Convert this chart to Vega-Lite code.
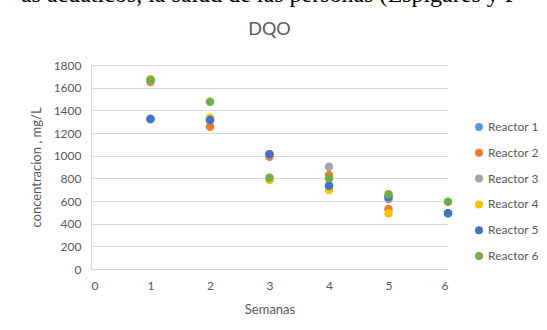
{
  "$schema": "https://vega.github.io/schema/vega-lite/v6.json",
  "autosize": {"type": "none"},
  "width": 357,
  "height": 204,
  "padding": {"left": 91, "top": 65, "right": 99, "bottom": 61},
  "background": "white",
  "title": {
    "text": "as acuáticos, la salud de las personas (Espigares y F",
    "subtitle": "DQO",
    "anchor": "middle",
    "font": "Liberation Serif",
    "fontSize": 24,
    "fontWeight": "normal",
    "color": "#000000",
    "subtitleFont": "Lato",
    "subtitleFontSize": 18,
    "subtitleColor": "#595959",
    "subtitlePadding": 14,
    "offset": 20
  },
  "data": {
    "values": [
      {"week": 1, "value": 1324, "reactor": "Reactor 1"},
      {"week": 2, "value": 1315, "reactor": "Reactor 1"},
      {"week": 3, "value": 1012, "reactor": "Reactor 1"},
      {"week": 4, "value": 735, "reactor": "Reactor 1"},
      {"week": 5, "value": 635, "reactor": "Reactor 1"},
      {"week": 6, "value": 491, "reactor": "Reactor 1"},
      {"week": 1, "value": 1650, "reactor": "Reactor 2"},
      {"week": 2, "value": 1256, "reactor": "Reactor 2"},
      {"week": 3, "value": 991, "reactor": "Reactor 2"},
      {"week": 4, "value": 829, "reactor": "Reactor 2"},
      {"week": 5, "value": 529, "reactor": "Reactor 2"},
      {"week": 1, "value": 1665, "reactor": "Reactor 3"},
      {"week": 2, "value": 1318, "reactor": "Reactor 3"},
      {"week": 3, "value": 1005, "reactor": "Reactor 3"},
      {"week": 4, "value": 903, "reactor": "Reactor 3"},
      {"week": 5, "value": 615, "reactor": "Reactor 3"},
      {"week": 1, "value": 1675, "reactor": "Reactor 4"},
      {"week": 2, "value": 1335, "reactor": "Reactor 4"},
      {"week": 3, "value": 785, "reactor": "Reactor 4"},
      {"week": 4, "value": 697, "reactor": "Reactor 4"},
      {"week": 5, "value": 491, "reactor": "Reactor 4"},
      {"week": 1, "value": 1324, "reactor": "Reactor 5"},
      {"week": 2, "value": 1315, "reactor": "Reactor 5"},
      {"week": 3, "value": 1012, "reactor": "Reactor 5"},
      {"week": 4, "value": 735, "reactor": "Reactor 5"},
      {"week": 5, "value": 635, "reactor": "Reactor 5"},
      {"week": 6, "value": 491, "reactor": "Reactor 5"},
      {"week": 1, "value": 1668, "reactor": "Reactor 6"},
      {"week": 2, "value": 1476, "reactor": "Reactor 6"},
      {"week": 3, "value": 806, "reactor": "Reactor 6"},
      {"week": 4, "value": 800, "reactor": "Reactor 6"},
      {"week": 5, "value": 659, "reactor": "Reactor 6"},
      {"week": 6, "value": 594, "reactor": "Reactor 6"}
    ]
  },
  "mark": {"type": "point", "shape": "circle", "filled": true, "opacity": 1, "size": 72},
  "encoding": {
    "x": {
      "field": "week",
      "type": "quantitative",
      "scale": {"domain": [0, 6], "nice": false, "zero": true},
      "axis": {
        "title": "Semanas",
        "values": [0, 1, 2, 3, 4, 5, 6],
        "format": "d",
        "grid": false,
        "ticks": false,
        "domain": true,
        "domainColor": "#d9d9d9",
        "labelPadding": 11,
        "titlePadding": 12
      }
    },
    "y": {
      "field": "value",
      "type": "quantitative",
      "scale": {"domain": [0, 1800], "nice": false},
      "axis": {
        "title": "concentracion , mg/L",
        "values": [0, 200, 400, 600, 800, 1000, 1200, 1400, 1600, 1800],
        "format": "d",
        "grid": true,
        "gridColor": "#d9d9d9",
        "ticks": false,
        "domain": true,
        "domainColor": "#d9d9d9",
        "labelPadding": 10,
        "titlePadding": 10
      }
    },
    "color": {
      "field": "reactor",
      "type": "nominal",
      "scale": {
        "domain": ["Reactor 1", "Reactor 2", "Reactor 3", "Reactor 4", "Reactor 5", "Reactor 6"],
        "range": ["#5B9BD5", "#ED7D31", "#A5A5A5", "#FFC000", "#4472C4", "#70AD47"]
      },
      "legend": {
        "title": null,
        "orient": "none",
        "legendX": 382,
        "legendY": 56,
        "symbolType": "circle",
        "symbolSize": 64,
        "symbolStrokeWidth": 0,
        "rowPadding": 13.8,
        "labelOffset": 3
      }
    }
  },
  "config": {
    "view": {"stroke": null},
    "axis": {
      "labelFont": "Lato",
      "labelFontSize": 12,
      "labelColor": "#595959",
      "titleFont": "Lato",
      "titleFontSize": 13,
      "titleFontWeight": "normal",
      "titleColor": "#595959"
    },
    "legend": {
      "labelFont": "Lato",
      "labelFontSize": 12,
      "labelColor": "#595959"
    }
  }
}
